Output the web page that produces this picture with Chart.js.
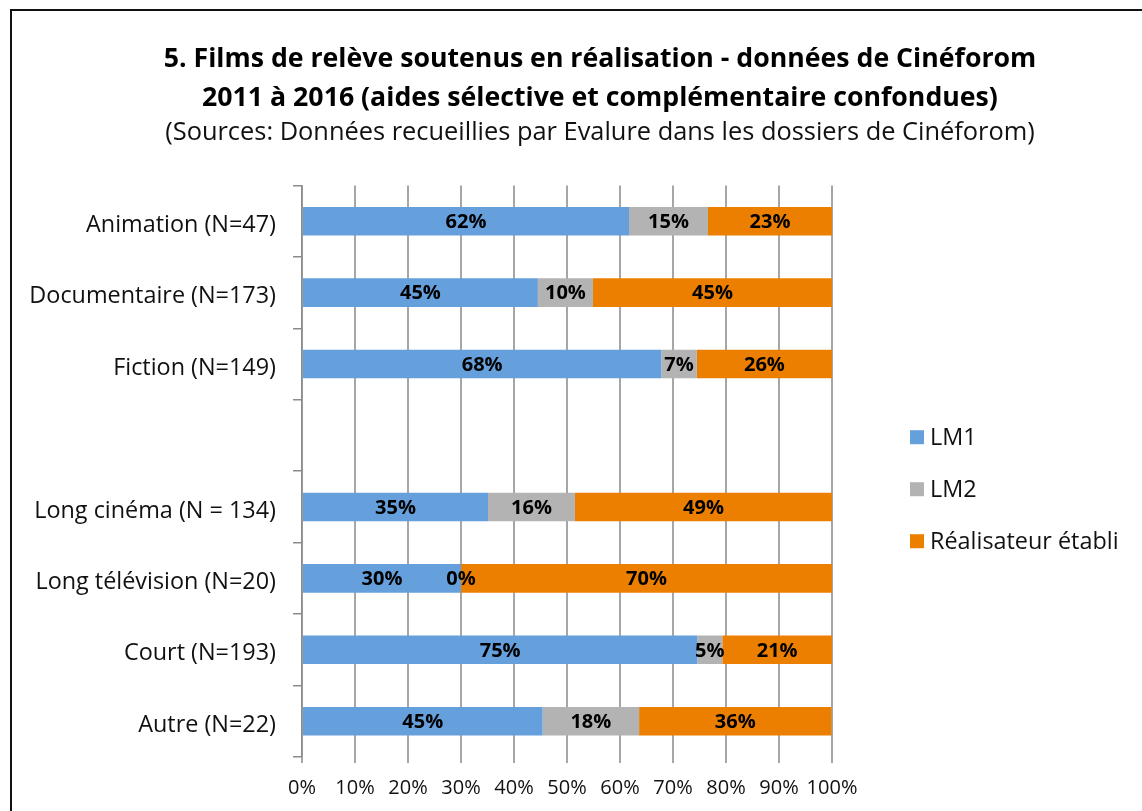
<!DOCTYPE html>
<html>
<head>
<meta charset="utf-8">
<script src="https://cdn.jsdelivr.net/npm/chart.js@4"></script>
<style>
  html, body { margin: 0; padding: 0; background: #fff; overflow: hidden; }
  #frame { position: absolute; left: 10px; top: 9px; width: 1200px; height: 900px; border: 2px solid #111; }
  #chart { position: absolute; left: 0; top: 0; }
</style>
</head>
<body>
<div id="frame"></div>
<canvas id="chart" width="1142" height="811"></canvas>
<script>
// ====== DATA ======
const categories = [
  "Animation (N=47)",
  "Documentaire (N=173)",
  "Fiction (N=149)",
  "",
  "Long cinéma (N = 134)",
  "Long télévision (N=20)",
  "Court (N=193)",
  "Autre (N=22)"
];
const lm1 = [61.7, 44.5, 67.8, null, 35.1, 30, 74.6, 45.4];
const lm2 = [14.9, 10.4, 6.7, null, 16.4, 0, 4.7, 18.2];
const etabli = [23.4, 45.1, 25.5, null, 48.5, 70, 20.7, 36.3];
const seriesNames = ["LM1", "LM2", "Réalisateur établi"];
const xTicks = [0, 10, 20, 30, 40, 50, 60, 70, 80, 90, 100];

const colors = ["#659FDC", "#B3B3B3", "#EC7F00"];
const FONT = "'Open Sans', sans-serif";

Chart.defaults.font.family = FONT;
Chart.defaults.color = "#111";

// ====== PLUGINS ======
const barLabels = {
  id: "barLabels",
  afterDatasetsDraw(chart) {
    const ctx = chart.ctx;
    ctx.save();
    ctx.font = "bold 20px " + FONT;
    ctx.fillStyle = "#000";
    ctx.textAlign = "center";
    ctx.textBaseline = "middle";
    chart.data.datasets.forEach((ds, i) => {
      const meta = chart.getDatasetMeta(i);
      meta.data.forEach((el, j) => {
        const v = ds.data[j];
        if (v === null || v === undefined) return;
        const x = (el.x + el.base) / 2;
        ctx.fillText(Math.round(v) + "%", x, el.y + 1);
      });
    });
    ctx.restore();
  }
};

// built-in legend only reserves the space on the right, items drawn below
const sideLegend = {
  id: "sideLegend",
  beforeInit(chart) {
    const fit = chart.legend.fit;
    chart.legend.fit = function () {
      fit.call(this);
      this.width = 358;
    };
  },
  afterDraw(chart) {
    const ctx = chart.ctx;
    const area = chart.chartArea;
    const x = area.right + 78;
    const step = 52;
    const y0 = (area.top + area.bottom) / 2 + 18 - step;
    ctx.save();
    ctx.font = "23.4px " + FONT;
    ctx.textAlign = "left";
    ctx.textBaseline = "middle";
    chart.data.datasets.forEach((ds, i) => {
      const y = y0 + i * step;
      ctx.fillStyle = ds.backgroundColor;
      ctx.fillRect(x, y - 7, 14, 14);
      ctx.fillStyle = "#111";
      ctx.fillText(ds.label, x + 20, y + 1);
    });
    ctx.restore();
  }
};

// ====== CHART ======
new Chart(document.getElementById("chart"), {
  type: "bar",
  data: {
    labels: categories,
    datasets: [lm1, lm2, etabli].map((d, i) => ({
      label: seriesNames[i],
      data: d,
      backgroundColor: colors[i],
      borderWidth: 0,
      barPercentage: 0.4,
      categoryPercentage: 1
    }))
  },
  options: {
    indexAxis: "y",
    responsive: false,
    animation: false,
    // the original frame runs past the right edge, so titles centre on a wider box
    layout: { padding: { left: 10, right: -48, top: 0, bottom: 0 } },
    plugins: {
      legend: { display: true, position: "right", labels: { filter: () => false } },
      tooltip: { enabled: false },
      title: {
        display: true,
        text: ["5. Films de relève soutenus en réalisation - données de Cinéforom",
               "2011 à 2016 (aides sélective et complémentaire confondues)"],
        font: { size: 26.7, weight: "bold", lineHeight: 1.46 },
        color: "#000",
        padding: { top: 40, bottom: 0 }
      },
      subtitle: {
        display: true,
        text: "(Sources: Données recueillies par Evalure dans les dossiers de Cinéforom)",
        font: { size: 25.4, lineHeight: 1.2 },
        color: "#111",
        padding: { top: 0, bottom: 37 }
      }
    },
    scales: {
      x: {
        stacked: true,
        min: 0,
        max: 100,
        afterBuildTicks(scale) {
          scale.ticks = xTicks.map(v => ({ value: v }));
        },
        afterFit(scale) { scale.height = 54; },
        ticks: {
          callback: v => v + "%",
          font: { size: 20 },
          padding: 13,
          autoSkip: false,
          maxRotation: 0
        },
        grid: { color: "#A6A6A6", lineWidth: 2, tickLength: 6 },
        border: { display: false }
      },
      y: {
        stacked: true,
        afterFit(scale) { scale.width = 292; },
        ticks: { font: { size: 23.4 }, padding: 17, labelOffset: 4 },
        grid: { drawOnChartArea: false, color: "#8C8C8C", lineWidth: 1.5, tickLength: 9 },
        border: { display: true, color: "#8C8C8C", width: 1.5 }
      }
    }
  },
  plugins: [barLabels, sideLegend]
});
</script>
</body>
</html>
